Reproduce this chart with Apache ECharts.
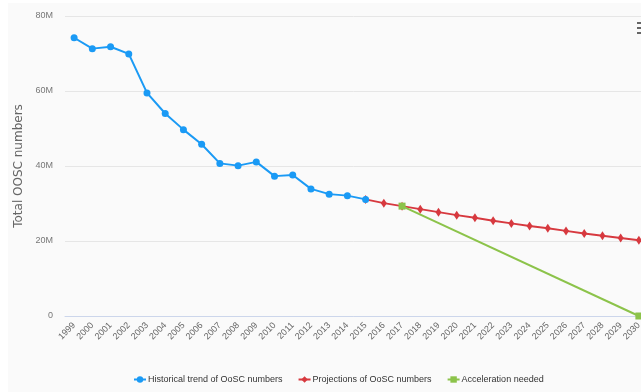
<!DOCTYPE html>
<html>
<head>
<meta charset="utf-8">
<script src="https://cdn.jsdelivr.net/npm/echarts@6/dist/echarts.min.js"></script>
<style>
  html, body { margin: 0; padding: 0; background: #ffffff; }
  #chart { position: absolute; left: 8px; top: 3px; width: 633px; height: 389px; }
</style>
</head>
<body>
<div id="chart"></div>
<script>
// years on the x axis
const years = ['1999','2000','2001','2002','2003','2004','2005','2006','2007','2008','2009','2010','2011','2012','2013','2014','2015',
  '2016','2017','2018','2019','2020','2021','2022','2023','2024','2025','2026','2027','2028','2029','2030']

// values in millions
const historical = [74.2, 71.3, 71.8, 69.9, 59.5, 54.0, 49.7, 45.8, 40.7, 40.1, 41.1, 37.3, 37.6, 33.9, 32.5, 32.1, 31.1,
  null, null, null, null, null, null, null, null, null, null, null, null, null, null, null]
const projections = [null, null, null, null, null, null, null, null, null, null, null, null, null, null, null, null, 31.1,
  30.1, 29.3, 28.5, 27.7, 26.9, 26.2, 25.4, 24.7, 24.0, 23.4, 22.7, 22.0, 21.4, 20.8, 20.2]
const acceleration = [null, null, null, null, null, null, null, null, null, null, null, null, null, null, null, null, null,
  null, 29.3, null, null, null, null, null, null, null, null, null, null, null, null, 0]

const yTicks = [0, 20, 40, 60, 80]

const seriesNames = ['Historical trend of OoSC numbers', 'Projections of OoSC numbers', 'Acceleration needed']
const colors = ['#1a9af5', '#d7393f', '#8cc34a']

const labelFont = "'Liberation Sans', Arial, sans-serif"

const chart = echarts.init(document.getElementById('chart'), null, { renderer: 'canvas' })

chart.setOption({
  backgroundColor: '#fafafa',
  animation: false,
  color: colors,
  grid: { left: 57, top: 13, width: 583, height: 300, outerBoundsMode: 'none', containLabel: false },
  legend: {
    left: 125,
    top: 372,
    padding: 0,
    itemWidth: 12,
    itemHeight: 8,
    itemGap: 15,
    textStyle: { color: '#333', fontSize: 9, fontFamily: labelFont, padding: [0, 0, 0, -3] },
    data: seriesNames
  },
  xAxis: {
    type: 'category',
    data: years,
    boundaryGap: true,
    axisLine: { lineStyle: { color: '#ccd6eb' } },
    axisTick: { show: false },
    axisLabel: { rotate: 45, interval: 0, color: '#666', fontSize: 9, fontFamily: labelFont, margin: 8 }
  },
  yAxis: {
    type: 'value',
    min: yTicks[0],
    max: yTicks[yTicks.length - 1],
    interval: 20,
    name: 'Total OOSC numbers',
    nameLocation: 'middle',
    nameGap: 35,
    nameTextStyle: { color: '#666', fontSize: 12, fontFamily: "'DejaVu Sans', sans-serif" },
    axisLine: { show: false },
    axisTick: { show: false },
    axisLabel: {
      color: '#777', fontSize: 9, fontFamily: labelFont, margin: 12,
      formatter: v => v === 0 ? '0' : v + 'M'
    },
    splitLine: { lineStyle: { color: '#e6e6e6' } }
  },
  series: [
    {
      name: seriesNames[0],
      type: 'line',
      data: historical,
      symbol: 'circle',
      symbolSize: 7,
      lineStyle: { width: 2 },
      z: 3
    },
    {
      name: seriesNames[1],
      type: 'line',
      data: projections,
      symbol: 'diamond',
      symbolSize: [6, 9],
      lineStyle: { width: 2 },
      z: 2
    },
    {
      name: seriesNames[2],
      type: 'line',
      data: acceleration,
      connectNulls: true,
      symbol: 'rect',
      symbolSize: 7,
      lineStyle: { width: 2 },
      z: 4
    }
  ],
  graphic: [
    { type: 'rect', left: 629, top: 19, shape: { width: 10, height: 2 }, style: { fill: '#666' } },
    { type: 'rect', left: 629, top: 24, shape: { width: 10, height: 2 }, style: { fill: '#666' } },
    { type: 'rect', left: 629, top: 29, shape: { width: 10, height: 2 }, style: { fill: '#666' } }
  ]
})
</script>
</body>
</html>
